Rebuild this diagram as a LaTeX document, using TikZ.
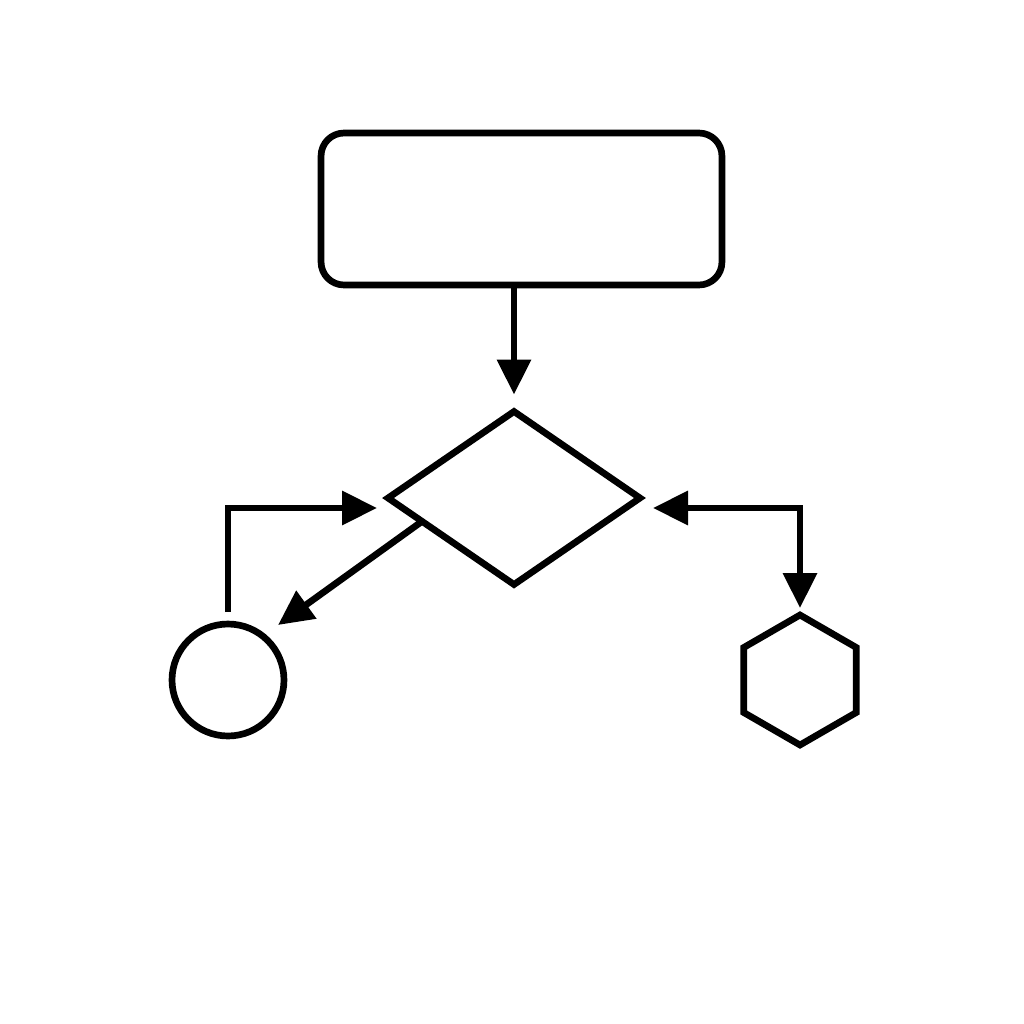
\documentclass[tikz,border=0pt]{standalone}
\usetikzlibrary{arrows.meta,shapes.geometric,calc}
\begin{document}
\begin{tikzpicture}[x=0.02cm,y=-0.02cm,
  shapeline/.style={draw=black, line width=3.8pt, inner sep=0pt, outer sep=0pt},
  arr/.style={-{Triangle[length=0.7cm,width=0.66cm]}, line width=3.8pt},
  arrboth/.style={{Triangle[length=0.7cm,width=0.66cm]}-{Triangle[length=0.7cm,width=0.66cm]}, line width=3.8pt}]
\useasboundingbox (0,0) rectangle (1024,1024);
\fill[white] (0,0) rectangle (1024,1024);
\node[shapeline, rounded corners=0.46cm, minimum width=8.02cm, minimum height=3.04cm] (top) at (521.5,209) {};
\node[shapeline, diamond, minimum width=5.04cm, minimum height=3.46cm] (dia) at (514,498) {};
\node[shapeline, circle, minimum size=2.24cm] (circ) at (228,680) {};
\node[shapeline, regular polygon, regular polygon sides=6, shape border rotate=30, minimum size=2.6cm] (hex) at (800,680) {};
\coordinate (lin) at (377,508);
\coordinate (rin) at (653,508);
\coordinate (cin) at (278,625);
\coordinate (dout) at ($(dia.west)!0.27!(dia.south)$);
\draw[arr, shorten >=0.34cm] (top.south -| dia.north) -- (dia.north);
\draw[arr] ([yshift=0.24cm]circ.north) |- (lin);
\draw[arr] (dout) -- (cin);
\draw[arrboth] (rin) -| ([yshift=0.14cm]hex.north);
\end{tikzpicture}
\end{document}
